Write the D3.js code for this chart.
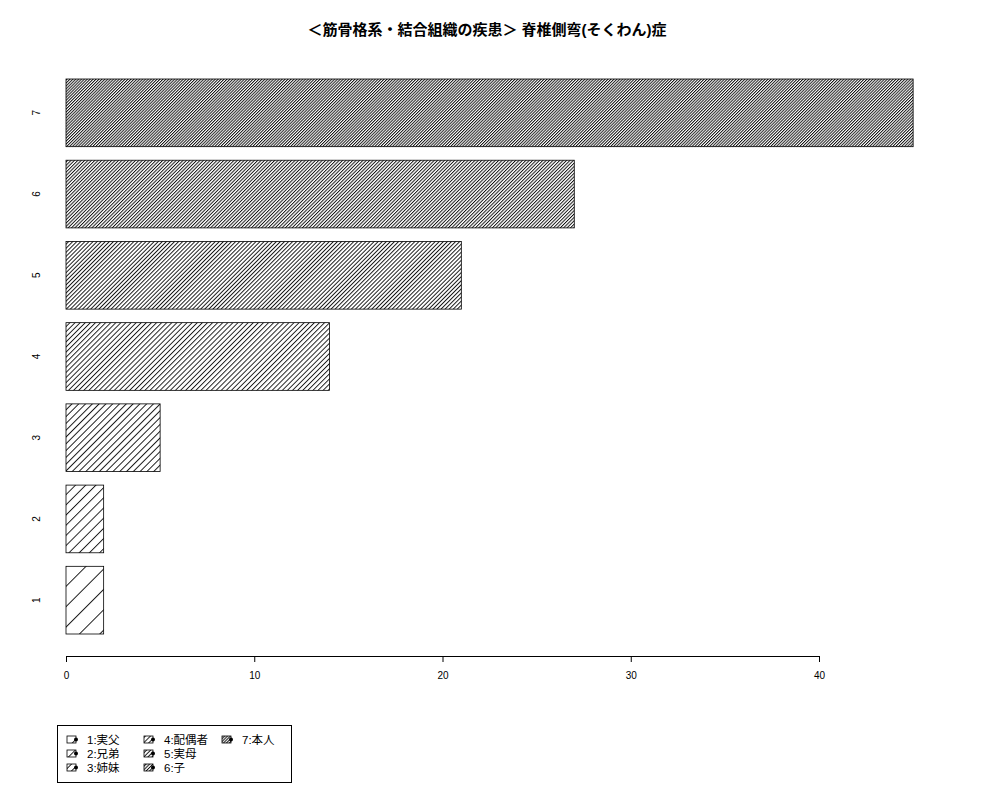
<!DOCTYPE html>
<html>
<head>
<meta charset="utf-8">
<script src="https://cdn.jsdelivr.net/npm/d3@7"></script>
<style>
  body { margin: 0; background: #fff; }
  text { font-family: "Liberation Sans", "Noto Sans CJK JP", sans-serif; }
</style>
</head>
<body>
<svg width="1000" height="800"></svg>
<script>
// chart data
var title = "＜筋骨格系・結合組織の疾患＞ 脊椎側弯(そくわん)症";
var categories = ["1", "2", "3", "4", "5", "6", "7"];
var values = [2, 2, 5, 14, 21, 27, 45];
var densities = [5, 10, 15, 20, 25, 30, 35];   // hatch lines per inch
var legendLabels = ["1:実父", "2:兄弟", "3:姉妹", "4:配偶者", "5:実母", "6:子", "7:本人"];
var xTicks = [0, 10, 20, 30, 40];

var svg = d3.select("svg");

// hatch patterns, one per bar
var defs = svg.append("defs");
densities.forEach(function(d, i) {
    var gap = 72 / d;
    var p = defs.append("pattern")
        .attr("id", "hatch" + i)
        .attr("patternUnits", "userSpaceOnUse")
        .attr("width", gap)
        .attr("height", 20)
        .attr("patternTransform", "rotate(45)");
    p.append("line")
        .attr("x1", 0.5).attr("x2", 0.5)
        .attr("y1", 0).attr("y2", 20)
        .attr("stroke", "#000")
        .attr("stroke-width", 0.9);
});

// scales
var x = d3.scaleLinear().domain([0, 40]).range([66, 819]);
var y = d3.scaleBand()
    .domain(categories.slice().reverse())
    .range([79, 634])
    .paddingInner(0.2 / 1.2)
    .paddingOuter(0);

// title
svg.append("text")
    .attr("x", 487).attr("y", 35)
    .attr("text-anchor", "middle")
    .attr("font-size", 15)
    .attr("font-weight", "bold")
    .text(title);

// bars
svg.selectAll("rect.bar")
    .data(values)
    .enter()
    .append("rect")
    .attr("class", "bar")
    .attr("x", x(0))
    .attr("y", function(d, i) { return y(categories[i]); })
    .attr("width", function(d) { return x(d) - x(0); })
    .attr("height", y.bandwidth())
    .attr("fill", function(d, i) { return "url(#hatch" + i + ")"; })
    .attr("stroke", "#000")
    .attr("stroke-width", 0.8);

// x axis
var xAxis = svg.append("g")
    .attr("transform", "translate(0,656)")
    .call(d3.axisBottom(x).tickValues(xTicks).tickSize(6).tickPadding(10));
xAxis.select(".domain").attr("stroke", "#000").attr("d", "M" + x(0) + ",0.5H" + x(40));
xAxis.selectAll("text").attr("font-size", 10).attr("font-family", "Liberation Sans, sans-serif");

// y labels (rotated)
svg.selectAll("text.ylab")
    .data(categories)
    .enter()
    .append("text")
    .attr("class", "ylab")
    .attr("transform", function(d) {
        return "translate(40," + (y(d) + y.bandwidth() / 2) + ") rotate(-90)";
    })
    .attr("text-anchor", "middle")
    .attr("font-size", 10)
    .text(function(d) { return d; });

// legend
var legend = svg.append("g");
legend.append("rect")
    .attr("x", 57.5).attr("y", 725.5)
    .attr("width", 234).attr("height", 57)
    .attr("fill", "none")
    .attr("stroke", "#000");

var colX = [67, 144, 222];
var rowY = [740, 754, 768];
legendLabels.forEach(function(lab, i) {
    var cx = colX[Math.floor(i / 3)];
    var cy = rowY[i % 3];
    var g = legend.append("g");
    g.append("rect")
        .attr("x", cx).attr("y", cy - 4)
        .attr("width", 9).attr("height", 7)
        .attr("fill", "url(#hatch" + i + ")")
        .attr("stroke", "#000")
        .attr("stroke-width", 0.8);
    g.append("circle")
        .attr("cx", cx + 9).attr("cy", cy - 0.5)
        .attr("r", 2)
        .attr("fill", "#000");
    g.append("text")
        .attr("x", cx + 20).attr("y", cy + 4)
        .attr("font-size", 11.5)
        .text(lab);
});
</script>
</body>
</html>
